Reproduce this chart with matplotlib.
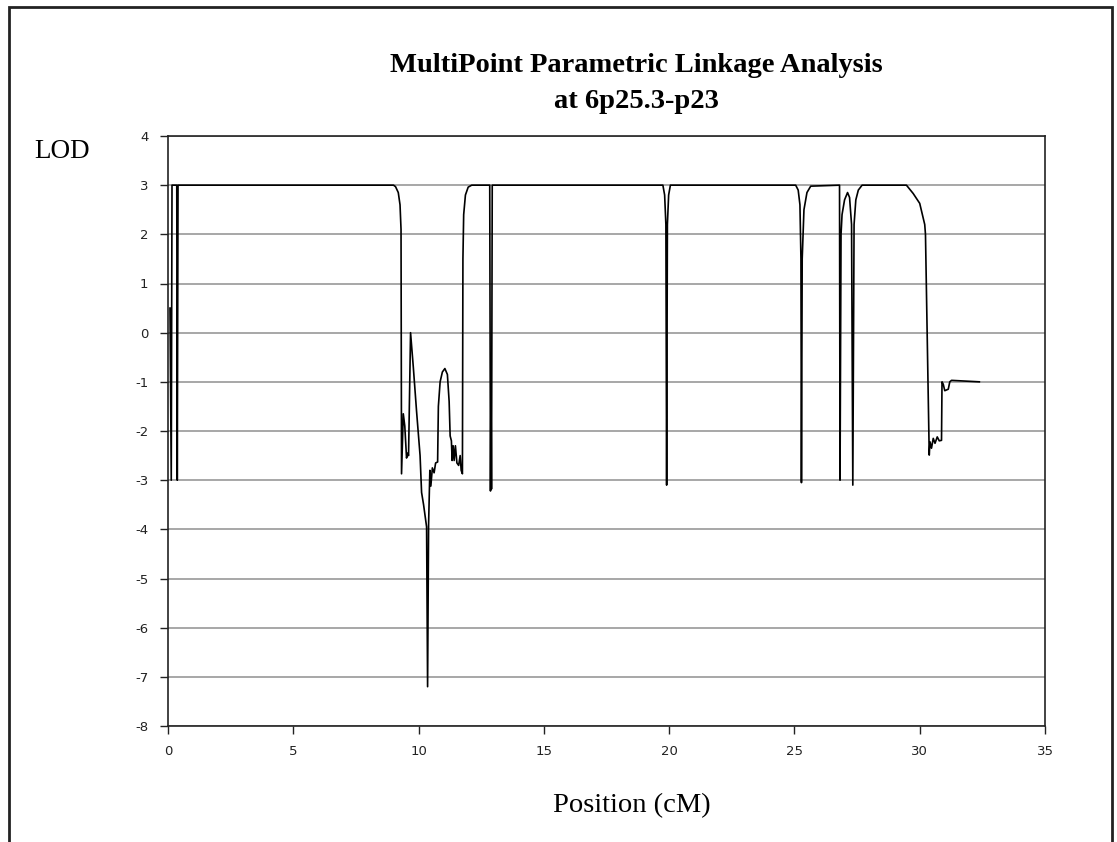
import matplotlib.pyplot as plt
from matplotlib.patches import Rectangle

plt.rcParams['axes.unicode_minus'] = False

# LOD score along the chromosome segment (cM)
position = [0.08, 0.13, 0.16, 0.35, 0.37, 0.40,
            9.00, 9.08, 9.19, 9.26, 9.30, 9.32, 9.39, 9.45, 9.52, 9.57, 9.60,
            9.68, 9.79, 9.92, 10.06, 10.12, 10.20, 10.32, 10.36, 10.40, 10.45,
            10.49, 10.55, 10.62, 10.68, 10.76, 10.79, 10.86, 10.95, 11.05, 11.15,
            11.22, 11.26, 11.31, 11.34, 11.38, 11.42, 11.47, 11.53, 11.60, 11.66,
            11.70, 11.75, 11.77, 11.80, 11.87, 11.98, 12.12,
            12.84, 12.87, 12.89, 12.91, 12.94,
            19.75, 19.82, 19.87, 19.90, 19.93, 19.98, 20.05,
            25.05, 25.15, 25.22, 25.26, 25.28, 25.31, 25.38, 25.50, 25.65,
            26.80, 26.82, 26.86, 26.90, 27.00, 27.12, 27.20, 27.28, 27.33, 27.38,
            27.45, 27.55, 27.70,
            29.47, 29.74, 30.00, 30.20, 30.23, 30.38, 30.41, 30.47, 30.54, 30.61,
            30.70, 30.78, 30.87, 30.89, 30.94, 31.00, 31.14, 31.20, 31.27, 32.38]
lod = [0.5, -3.0, 3.0, 3.0, -3.0, 3.0,
       3.0, 2.97, 2.85, 2.6, 2.1, -2.87, -1.65, -1.9, -2.55, -2.45, -2.5,
       0.0, -0.7, -1.6, -2.5, -3.25, -3.5, -3.95, -7.2, -3.9, -2.8,
       -3.12, -2.75, -2.85, -2.65, -2.63, -1.5, -1.0, -0.8, -0.73, -0.85,
       -1.4, -2.1, -2.2, -2.6, -2.3, -2.6, -2.3, -2.65, -2.7, -2.5,
       -2.8, -2.87, 1.5, 2.4, 2.8, 2.96, 3.0,
       3.0, -3.22, -1.0, -3.18, 3.0,
       3.0, 2.8, 2.2, -3.1, 2.2, 2.8, 3.0,
       3.0, 2.9, 2.6, 1.5, -3.05, 1.5, 2.5, 2.85, 2.98,
       3.0, -3.0, 2.0, 2.4, 2.7, 2.85, 2.75, 2.2, -3.1, 2.2,
       2.7, 2.9, 3.0,
       3.0, 2.83, 2.63, 2.2, 2.0, -2.49, -2.22, -2.35, -2.15, -2.25,
       -2.12, -2.2, -2.19, -1.0, -1.05, -1.18, -1.15, -1.0, -0.97, -1.0]

x_ticks = [0, 5, 10, 15, 20, 25, 30, 35]
y_ticks = [4, 3, 2, 1, 0, -1, -2, -3, -4, -5, -6, -7, -8]

fig = plt.figure(figsize=(11.17, 8.42), dpi=100)
fig.patches.append(Rectangle((9 / 1117, -0.05), (1112 - 9) / 1117, 1.05 - 7 / 842,
                             transform=fig.transFigure, fill=False,
                             edgecolor='#222222', linewidth=2))

ax = fig.add_axes([168 / 1117, 1 - 726 / 842, (1045 - 168) / 1117, (726 - 136) / 842])
ax.plot(position, lod, color='black', linewidth=1.2)

ax.set_xlim(0, 35)
ax.set_ylim(-8, 4)
ax.set_xticks(x_ticks)
ax.set_yticks(y_ticks)
ax.yaxis.grid(True, color='#8f8f8f', linewidth=1.1)
ax.set_axisbelow(True)
ax.tick_params(direction='out', length=6, width=1, labelsize=9.5,
               colors='#222222', pad=8)
for s in ax.spines.values():
    s.set_color('#222222')
    s.set_linewidth(1.2)

serif = ['Liberation Serif', 'DejaVu Serif']
fig.text(636 / 1117, 1 - 66 / 842, 'MultiPoint Parametric Linkage Analysis',
         ha='center', va='center', family=serif, fontweight='bold', fontsize=20.5)
fig.text(636 / 1117, 1 - 101 / 842, 'at 6p25.3-p23',
         ha='center', va='center', family=serif, fontweight='bold', fontsize=20.5)
fig.text(62 / 1117, 1 - 151 / 842, 'LOD', ha='center', va='center',
         family=serif, fontsize=19.5)
fig.text(632 / 1117, 1 - 806 / 842, 'Position (cM)', ha='center', va='center',
         family=serif, fontsize=20.5)

fig.savefig('out.png', dpi=100)
